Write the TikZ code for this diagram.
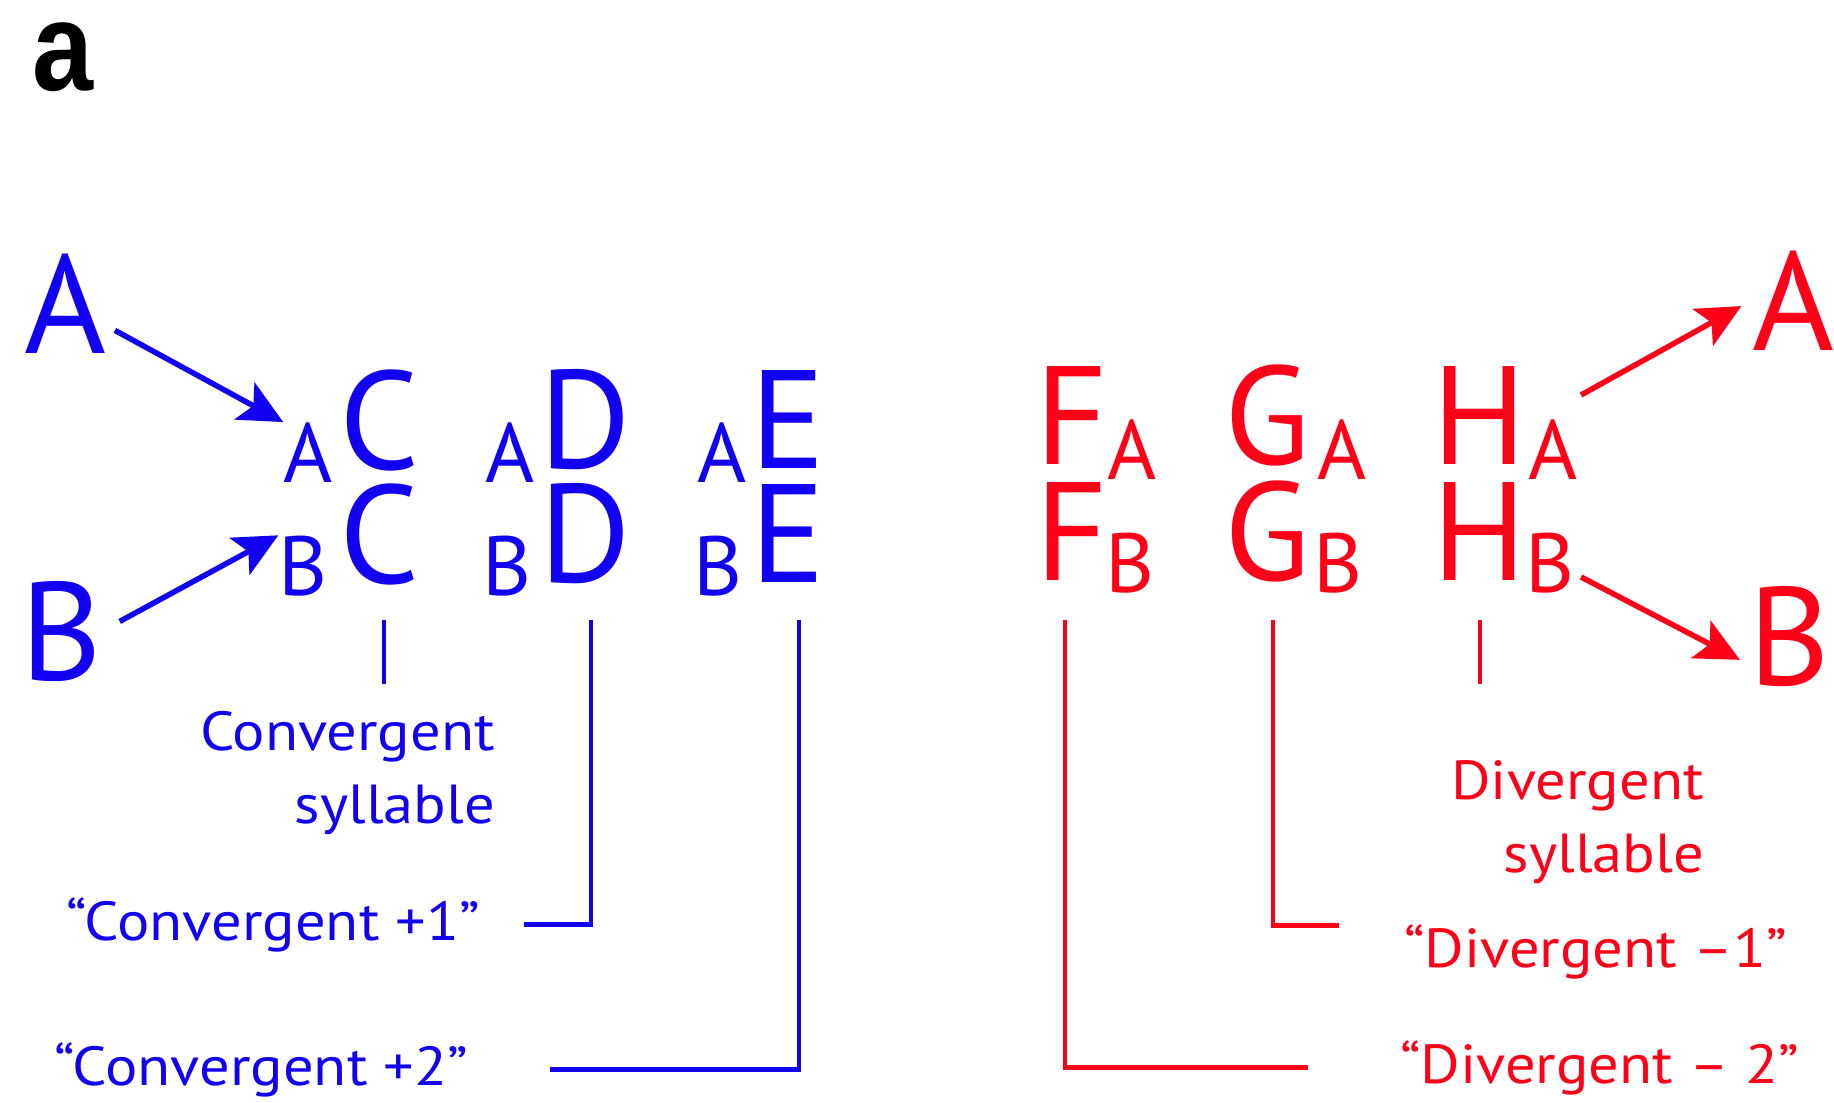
\documentclass[tikz,border=0pt]{standalone}
\usepackage{fontspec}
\setmainfont{PT Sans}
\newfontfamily\labfont[FakeStretch=1.1]{PT Sans}
\newfontfamily\panelfont[FakeStretch=0.87]{Liberation Sans}
\usepackage{tikz}
\usetikzlibrary{arrows.meta}
\definecolor{convblue}{RGB}{20,0,240}
\definecolor{divred}{RGB}{255,0,25}

\begin{document}
\begin{tikzpicture}[x=1pt,y=-1pt,
big/.style={inner sep=0pt,anchor=base,font=\fontsize{140}{140}\selectfont},
sub/.style={inner sep=0pt,anchor=base,font=\fontsize{84}{84}\selectfont},
lab/.style={inner sep=0pt,font=\labfont\fontsize{55}{73}\selectfont},
arrow/.style={-{Stealth[length=44pt,width=42pt,inset=10pt]},line width=5.5pt},
bracket/.style={line width=4.5pt}]

\useasboundingbox (0,0) rectangle (1834,1103);

\node[inner sep=0pt,anchor=base west,font=\panelfont\bfseries\fontsize{126}{126}\selectfont] (panel) at (32,90) {a};

\begin{scope}[color=convblue]
\node[big] (A) at (65,353) {A};

\node[big] (B) at (61,680) {B};

\node[sub] (ca) at (308,482) {A};
\node[big] (c1) at (379,469) {C};
\node[sub] (cb) at (303,595) {B};
\node[big] (c2) at (379,583) {C};

\node[sub] (da) at (510,482) {A};
\node[big] (d1) at (585,468) {D};
\node[sub] (db) at (507,595) {B};
\node[big] (d2) at (585,582) {D};

\node[sub] (ea) at (722,482) {A};
\node[big] (e1) at (788,468) {E};
\node[sub] (eb) at (718,595) {B};
\node[big] (e2) at (788,582) {E};

\node[lab,align=right,anchor=base east] (convsyl) at (495,823) {Convergent\\syllable};

\node[lab,anchor=base east] (conv1) at (480,940) {“Convergent +1”};

\node[lab,anchor=base east] (conv2) at (468,1085) {“Convergent +2”};

\draw[arrow,shorten <=10pt] (A) -- (ca.north west);

\draw[arrow,shorten <=20pt] (B.east) -- (cb.north west);

\coordinate (ctick) at (384,620);
\coordinate (dtop) at (591,620);
\coordinate (etop) at (799,620);

\draw[bracket] (ctick) -- ++(0,64);

\draw[bracket,shorten >=44pt] (dtop) |- (conv1.east);

\draw[bracket,shorten >=82pt] (etop) |- (conv2.east);
\end{scope}

\begin{scope}[color=divred]
\node[big] (fa) at (1072,464) {F};
\node[sub] (fsa) at (1132,479) {A};
\node[big] (fb) at (1072,580) {F};
\node[sub] (fsb) at (1130,592) {B};

\node[big] (ga) at (1267,464) {G};
\node[sub] (gsa) at (1342,479) {A};
\node[big] (gb) at (1267,580) {G};
\node[sub] (gsb) at (1338,592) {B};

\node[big] (ha) at (1480,464) {H};
\node[sub] (hsa) at (1553,479) {A};
\node[big] (hb) at (1480,580) {H};
\node[sub] (hsb) at (1550,592) {B};

\node[big] (ra) at (1793,350) {A};

\node[big] (rb) at (1789,685) {B};

\node[lab,align=right,anchor=base east] (divsyl) at (1704,872) {Divergent\\syllable};

\node[lab,anchor=base west] (div1) at (1404,967) {“Divergent –1”};

\node[lab,anchor=base west] (div2) at (1400,1083) {“Divergent – 2”};

\coordinate (haout) at (1581,395);
\coordinate (hbout) at (1581,577);

\draw[arrow,shorten >=12pt] (haout) -- (ra.west);

\draw[arrow,shorten >=9pt] (hbout) -- ([yshift=-28pt]rb.west);

\coordinate (ftop) at (1065,620);
\coordinate (gtop) at (1273,620);
\coordinate (htick) at (1480,620);

\draw[bracket] (htick) -- ++(0,64);

\draw[bracket,shorten >=65pt] (gtop) |- ([yshift=26pt]div1.west);

\draw[bracket,shorten >=92pt] (ftop) |- (div2.west);
\end{scope}

\end{tikzpicture}
\end{document}
